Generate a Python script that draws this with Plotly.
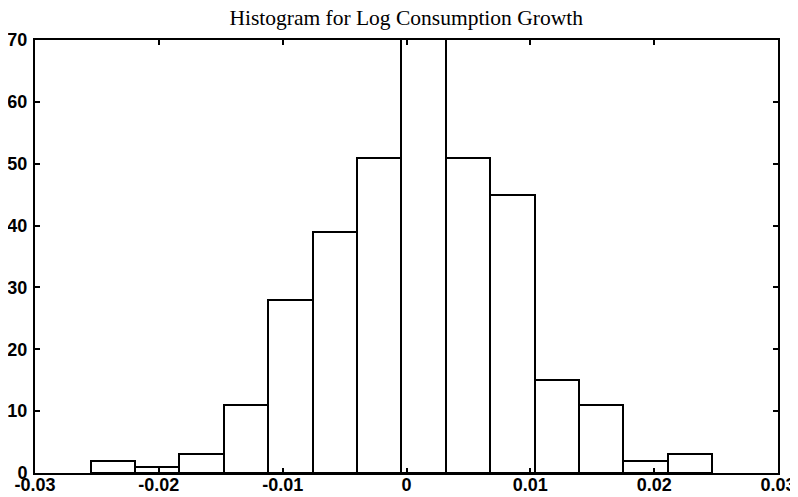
import numpy as np
import plotly.graph_objects as go

# Histogram data
bin_start = -0.02551
bin_width = 0.003586
counts = [2, 1, 3, 11, 28, 39, 51, 76, 51, 45, 15, 11, 2, 3]
x_ticks = [-0.03, -0.02, -0.01, 0, 0.01, 0.02, 0.03]
x_tick_labels = ["-0.03", "-0.02", "-0.01", "0", "0.01", "0.02", "0.03"]
y_ticks = [0, 10, 20, 30, 40, 50, 60, 70]
title_text = "Histogram for Log Consumption Growth"

centers = bin_start + bin_width * (np.arange(len(counts)) + 0.5)

fig = go.Figure()
fig.add_trace(go.Bar(
    x=centers, y=counts, width=bin_width,
    marker=dict(color="white", line=dict(color="black", width=2)),
    cliponaxis=True, showlegend=False,
))

axis_common = dict(
    showline=True, linecolor="black", linewidth=2, mirror="ticks",
    ticks="inside", ticklen=5, tickwidth=1.5, tickcolor="black",
    showgrid=False, zeroline=False, automargin=False,
    tickfont=dict(family="Liberation Sans", size=18, color="black", weight="bold"),
)

fig.update_layout(
    width=790, height=489,
    margin=dict(l=27, r=20, t=32, b=24),
    paper_bgcolor="white", plot_bgcolor="white",
    title=dict(text=title_text, x=0.504, xanchor="center", y=0.981, yanchor="middle",
               font=dict(family="Liberation Serif", size=21.5, color="black")),
    bargap=0,
)
fig.update_xaxes(range=[-0.03, 0.03], tickvals=x_ticks, ticktext=x_tick_labels,
                 ticklabelstandoff=-6, **axis_common)
fig.update_yaxes(range=[0, 70], tickvals=y_ticks, ticklabelstandoff=2, **axis_common)

fig.write_html("out.html")
